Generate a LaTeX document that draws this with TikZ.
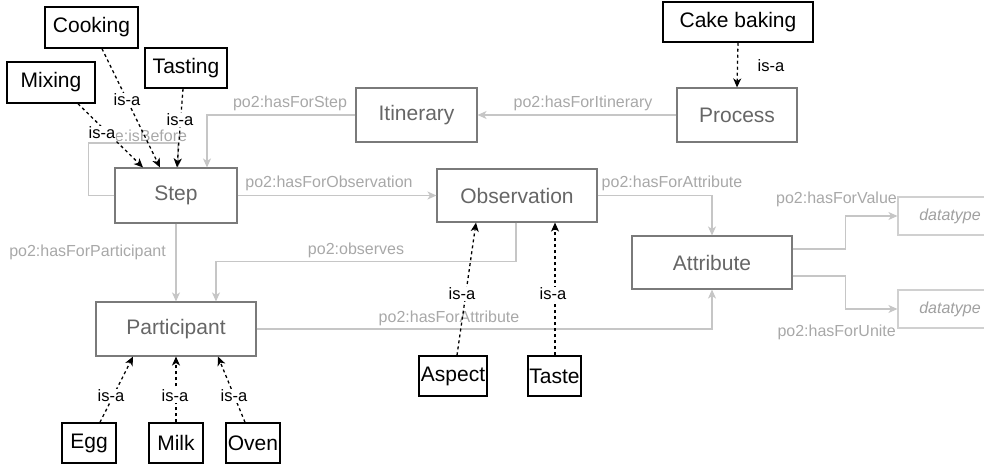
\documentclass[tikz,border=0pt]{standalone}
\usepackage{fontspec}
\setmainfont{Liberation Sans}
\usetikzlibrary{arrows.meta,calc}

\definecolor{clsborder}{HTML}{7A7A7A}
\definecolor{clstext}{HTML}{666666}
\definecolor{relline}{HTML}{C6C6C6}
\definecolor{reltext}{HTML}{A8A8A8}
\definecolor{dtborder}{HTML}{D0D0D0}
\definecolor{dttext}{HTML}{A0A0A0}

\tikzset{
  cls/.style={draw=clsborder, line width=1.1pt, fill=white, text=clstext,
    inner sep=0pt, font=\fontsize{21}{24}\selectfont},
  inst/.style={draw=black, line width=1.5pt, fill=white, text=black,
    inner sep=0pt, font=\fontsize{21}{24}\selectfont},
  dtbox/.style={draw=dtborder, line width=1.1pt, fill=white, text=dttext,
    inner sep=0pt, font=\fontsize{16}{19}\selectfont\itshape},
  rel/.style={draw=relline, line width=1.3pt,
    -{Stealth[length=9pt,width=8pt,inset=2.5pt]}},
  rellabel/.style={text=reltext, inner sep=0pt, font=\fontsize{16}{19}\selectfont},
  isa/.style={draw=black, line width=1.3pt, dash pattern=on 3pt off 3pt,
    -{Stealth[length=9pt,width=8pt,inset=2.5pt]}},
  isalabel/.style={text=black, fill=white, inner sep=1pt, font=\fontsize{16.5}{19}\selectfont},
}

\begin{document}
\begin{tikzpicture}[x=1pt, y=-1pt]
\useasboundingbox (0,0) rectangle (984,466);

% classes
\node[cls, minimum width=122pt, minimum height=55pt] (step) at (176,195.5) {Step};
\node[cls, minimum width=121pt, minimum height=54pt] (itin) at (416.5,115) {Itinerary};
\node[cls, minimum width=120pt, minimum height=54pt] (proc) at (737,115) {Process};
\node[cls, minimum width=160pt, minimum height=53pt] (obs) at (517,195.5) {Observation};
\node[cls, minimum width=160pt, minimum height=53pt] (attr) at (712,262.5) {Attribute};
\node[cls, minimum width=160pt, minimum height=54pt] (part) at (176,329) {Participant};
\node[dtbox, minimum width=122pt, minimum height=38pt] (dt1) at (959,216) {\hspace*{-18pt}datatype};
\node[dtbox, minimum width=122pt, minimum height=38pt] (dt2) at (959,309) {\hspace*{-18pt}datatype};

% instances
\node[inst, minimum width=93pt, minimum height=41pt] (cook) at (91.5,27.5) {Cooking};
\node[inst, minimum width=82pt, minimum height=40pt] (tast) at (186,68) {Tasting};
\node[inst, minimum width=88pt, minimum height=41pt] (mix) at (51,82.5) {Mixing};
\node[inst, minimum width=150pt, minimum height=40pt] (cake) at (738,22) {Cake baking};
\node[inst, minimum width=54pt, minimum height=40pt] (egg) at (89,443) {Egg};
\node[inst, minimum width=54pt, minimum height=40pt] (milk) at (176,443) {Milk};
\node[inst, minimum width=54pt, minimum height=40pt] (oven) at (253,443) {Oven};
\node[inst, minimum width=68pt, minimum height=40pt] (aspect) at (453,376) {Aspect};
\node[inst, minimum width=53pt, minimum height=40pt] (taste) at (554.5,376) {Taste};

% object properties
\draw[rel] (proc.west) -- (itin.east);
\node[rellabel] (lItin) at (583,103) {po2:hasForItinerary};

\draw[rel] (itin.west) -| ($(step.north)+(31,0)$);
\node[rellabel] (lStep) at (290,103) {po2:hasForStep};

\draw[rel] (step.east) -- (obs.west);
\node[rellabel] (lObs) at (329,183) {po2:hasForObservation};

\draw[rel] (obs.east) -| (attr.north);
\node[rellabel] (lAttr1) at (672,183) {po2:hasForAttribute};

\draw[rel] ($(attr.east)+(0,-13.5)$) -- ++(53,0) |- (dt1.west);
\node[rellabel, anchor=east] (lVal) at (897,199) {po2:hasForValue};

\draw[rel] ($(attr.east)+(0,13.5)$) -- ++(53,0) |- (dt2.west);
\node[rellabel, anchor=east] (lUnit) at (896,332) {po2:hasForUnite};

\draw[rel] (step.south) -- (part.north);
\node[rellabel, anchor=east] (lPart) at (166,252) {po2:hasForParticipant};

\draw[rel] ($(obs.south)+(-1,0)$) |- ($(part.north)+(40,-40)$) -- ($(part.north)+(40,0)$);
\node[rellabel] (lObserves) at (356,250) {po2:observes};

\draw[rel] (part.east) -| (attr.south);
\node[rellabel] (lAttr2) at (449,318) {po2:hasForAttribute};

\draw[rel] (step.west) -- ++(-26,0) -- ++(0,-52.5) -| ($(step.north)+(2,0)$);
\node[rellabel] (lBefore) at (151,136) {e:isBefore};

% subclass links
\draw[isa] (cake.south) -- (proc.north);
\node[isalabel, fill=none] (iCake) at (771,66) {is-a};

\draw[isa] ($(mix.south)+(27,0)$) -- ($(step.north)+(-33,0)$);
\draw[isa] ($(cook.south)+(10.5,0)$) -- ($(step.north)+(-16,0)$);
\draw[isa] ($(tast.south)+(-3,0)$) -- ($(step.north)+(1,0)$);
\node[isalabel] (iMix) at (102,133) {is-a};
\node[isalabel] (iCook) at (127,100) {is-a};
\node[isalabel] (iTast) at (180,120) {is-a};

\draw[isa] ($(egg.north)+(11,0)$) -- ($(part.south)+(-43,0)$);
\draw[isa] (milk.north) -- (part.south);
\draw[isa] ($(oven.north)+(-8,0)$) -- ($(part.south)+(42,0)$);
\node[isalabel] (iEgg) at (111,396) {is-a};
\node[isalabel] (iMilk) at (175,396) {is-a};
\node[isalabel] (iOven) at (234,396) {is-a};

\draw[isa] ($(aspect.north)+(4,0)$) -- ($(obs.south)+(-41,0)$);
\draw[isa] ($(taste.north)+(0.5,0)$) -- ($(obs.south)+(38,0)$);
\node[isalabel] (iAspect) at (462,294) {is-a};
\node[isalabel] (iTaste) at (553,294) {is-a};
\end{tikzpicture}
\end{document}
